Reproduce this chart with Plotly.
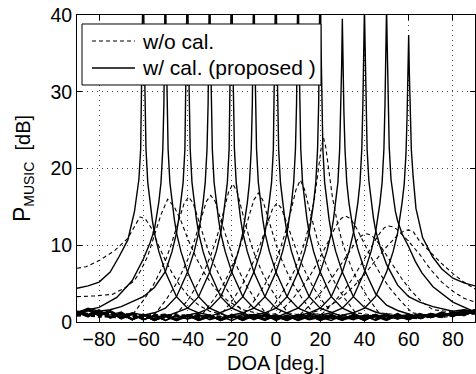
import plotly.graph_objects as go

# ---------------- data: w/ cal. (proposed), solid ----------------
wc_m60_x = [-90, -85, -80, -75, -71, -67, -64, -62, -61.2, -60.7, -60.3, -60, -59.7, -59.3, -58.8, -58, -57, -56, -55, -53, -50, -45, -40, -35, -30, -25, -20, -15, -10, -5, 0, 5, 10, 15, 20, 25, 30, 35, 40, 45, 50, 55, 60, 65, 70, 75, 80, 85, 90]
wc_m60_y = [4.4, 4.7, 5.2, 6.5, 8.5, 10.7, 14.4, 18.6, 22.5, 28.5, 37, 48, 37, 28.5, 22.5, 18.2, 15.5, 13.4, 11.6, 9.2, 6.5, 3.3, 1.8, 1.2, 0.9, 0.3, 0.8, 0.2, 1.0, 0.3, 0.7, 0.2, 0.8, 0.3, 0.6, 0.2, 0.9, 0.4, 0.7, 0.3, 1.1, 0.4, 0.8, 0.5, 1.0, 0.6, 1.3, 0.8, 1.5]

wc_m50_x = [-90, -80, -72, -65, -60, -57, -55, -54, -53, -52, -51.2, -50.7, -50.3, -50, -49.7, -49.3, -48.8, -48, -47, -46, -45, -43, -40, -35, -30, -25, -20, -15, -10, -5, 0, 5, 10, 15, 20, 25, 30, 35, 40, 45, 50, 55, 60, 65, 70, 75, 80, 85, 90]
wc_m50_y = [1.3, 1.9, 3.2, 5.4, 8.2, 10.3, 12.0, 13.6, 15.6, 18.2, 22.5, 28.5, 37, 48, 37, 28.5, 22.5, 18.2, 15.5, 13.4, 11.6, 9.2, 6.5, 3.3, 1.8, 1.2, 0.5, 1.0, 0.3, 0.9, 0.2, 0.8, 0.3, 1.0, 0.2, 0.7, 0.4, 0.9, 0.3, 0.8, 0.5, 1.1, 0.4, 0.9, 0.6, 1.2, 0.7, 1.4, 1.1]

wc_m40_x = [-90, -85, -80, -75, -70, -60, -55, -50, -47, -45, -44, -43, -42, -41.2, -40.7, -40.3, -40, -39.7, -39.3, -38.8, -38, -37, -36, -35, -33, -30, -25, -20, -15, -10, -5, 0, 5, 10, 15, 20, 25, 30, 35, 40, 45, 50, 55, 60, 65, 70, 75, 80, 85, 90]
wc_m40_y = [1.2, 1.8, 1.4, 1.6, 2.0, 3.3, 4.5, 6.6, 9.2, 11.6, 13.4, 15.5, 18.2, 22.5, 28.5, 37, 48, 37, 28.5, 22.5, 18.2, 15.5, 13.4, 11.6, 9.2, 6.5, 3.3, 1.8, 1.2, 0.6, 1.0, 0.3, 0.8, 0.2, 0.9, 0.4, 0.7, 0.2, 0.9, 0.4, 1.0, 0.3, 0.8, 0.5, 1.1, 0.6, 1.0, 0.8, 1.3, 1.2]

wc_m30_x = [-90, -85, -80, -75, -70, -65, -60, -55, -50, -45, -40, -37, -35, -34, -33, -32, -31.2, -30.7, -30.3, -30, -29.7, -29.3, -28.8, -28, -27, -26, -25, -23, -20, -15, -10, -5, 0, 5, 10, 15, 20, 25, 30, 35, 40, 45, 50, 55, 60, 65, 70, 75, 80, 85, 90]
wc_m30_y = [1.1, 1.7, 1.0, 1.5, 0.7, 1.2, 0.9, 1.2, 1.8, 3.3, 6.5, 9.2, 11.6, 13.4, 15.5, 18.2, 22.5, 28.5, 37, 48, 37, 28.5, 22.5, 18.2, 15.5, 13.4, 11.6, 9.2, 6.5, 3.3, 1.8, 1.2, 0.4, 0.9, 0.2, 0.7, 0.3, 1.0, 0.4, 0.8, 0.2, 0.9, 0.4, 0.7, 0.3, 1.0, 0.6, 1.2, 0.9, 1.6, 1.3]

wc_m20_x = [-90, -85, -80, -75, -70, -65, -60, -55, -50, -45, -40, -35, -30, -27, -25, -24, -23, -22, -21.2, -20.7, -20.3, -20, -19.7, -19.3, -18.8, -18, -17, -16, -15, -13, -10, -5, 0, 5, 10, 15, 20, 25, 30, 35, 40, 45, 50, 55, 60, 65, 70, 75, 80, 85, 90]
wc_m20_y = [0.9, 1.5, 0.8, 1.3, 0.5, 1.1, 0.3, 0.8, 0.7, 1.2, 1.8, 3.3, 6.5, 9.2, 11.6, 13.4, 15.5, 18.2, 22.5, 28.5, 37, 48, 37, 28.5, 22.5, 18.2, 15.5, 13.4, 11.6, 9.2, 6.5, 3.3, 1.8, 1.2, 0.5, 0.9, 0.2, 0.8, 0.3, 1.0, 0.4, 0.7, 0.2, 0.9, 0.5, 1.0, 0.7, 1.3, 0.8, 1.2, 1.6]

wc_m10_x = [-90, -85, -80, -75, -70, -65, -60, -55, -50, -45, -40, -35, -30, -25, -20, -17, -15, -14, -13, -12, -11.2, -10.7, -10.3, -10, -9.7, -9.3, -8.8, -8, -7, -6, -5, -3, 0, 5, 10, 15, 20, 25, 30, 35, 40, 45, 50, 55, 60, 65, 70, 75, 80, 85, 90]
wc_m10_y = [1.3, 0.7, 1.5, 0.6, 1.1, 0.3, 0.9, 0.2, 0.7, 0.4, 0.9, 1.2, 1.8, 3.3, 6.5, 9.2, 11.6, 13.4, 15.5, 18.2, 22.5, 28.5, 37, 48, 37, 28.5, 22.5, 18.2, 15.5, 13.4, 11.6, 9.2, 6.5, 3.3, 1.8, 1.2, 0.6, 0.9, 0.3, 0.8, 0.2, 0.9, 0.4, 1.0, 0.3, 0.9, 0.6, 1.1, 0.9, 1.4, 1.2]

wc_0_x = [-90, -85, -80, -75, -70, -65, -60, -55, -50, -45, -40, -35, -30, -25, -20, -15, -10, -7, -5, -4, -3, -2, -1.2, -0.7, -0.3, 0, 0.3, 0.7, 1.2, 2, 3, 4, 5, 7, 10, 15, 20, 25, 30, 35, 40, 45, 50, 55, 60, 65, 70, 75, 80, 85, 90]
wc_0_y = [1.0, 1.6, 0.9, 1.3, 0.4, 1.0, 0.3, 0.8, 0.2, 0.9, 0.4, 0.8, 0.7, 1.2, 1.8, 3.3, 6.5, 9.2, 11.6, 13.4, 15.5, 18.2, 22.5, 28.5, 37, 48, 37, 28.5, 22.5, 18.2, 15.5, 13.4, 11.6, 9.2, 6.5, 3.3, 1.8, 1.2, 0.7, 0.3, 0.9, 0.2, 0.8, 0.4, 1.0, 0.5, 0.9, 0.7, 1.3, 1.0, 1.6]

wc_10_x = [-90, -85, -80, -75, -70, -65, -60, -55, -50, -45, -40, -35, -30, -25, -20, -15, -10, -5, 0, 3, 5, 6, 7, 8, 8.8, 9.3, 9.7, 10, 10.3, 10.7, 11.2, 12, 13, 14, 15, 17, 20, 25, 30, 35, 40, 45, 50, 55, 60, 65, 70, 75, 80, 85, 90]
wc_10_y = [1.2, 0.8, 1.4, 0.7, 1.1, 0.4, 0.9, 0.2, 0.8, 0.3, 0.9, 0.2, 0.7, 0.4, 0.9, 1.2, 1.8, 3.3, 6.5, 9.2, 11.6, 13.4, 15.5, 18.2, 22.5, 28.5, 37, 48, 37, 28.5, 22.5, 18.2, 15.5, 13.4, 11.6, 9.2, 6.5, 3.3, 1.8, 1.2, 0.5, 0.9, 0.3, 0.8, 0.4, 1.0, 0.6, 1.1, 0.8, 1.5, 1.3]

wc_20_x = [-90, -85, -80, -75, -70, -65, -60, -55, -50, -45, -40, -35, -30, -25, -20, -15, -10, -5, 0, 5, 10, 13, 15, 16, 17, 18, 18.8, 19.3, 19.7, 20, 20.3, 20.7, 21.2, 22, 23, 24, 25, 27, 30, 35, 40, 45, 50, 55, 60, 65, 70, 75, 80, 85, 90]
wc_20_y = [1.4, 1.0, 1.6, 0.6, 1.2, 0.3, 1.0, 0.4, 0.7, 0.2, 0.8, 0.3, 0.9, 0.2, 0.7, 0.4, 0.9, 1.2, 1.8, 3.3, 6.5, 9.2, 11.6, 13.4, 15.5, 18.2, 22.5, 28.5, 37, 48, 37, 28.5, 22.5, 18.2, 15.5, 13.4, 11.6, 9.2, 6.5, 3.3, 1.9, 1.3, 0.9, 0.5, 1.0, 0.6, 1.1, 0.8, 1.3, 1.0, 1.5]

wc_30_x = [-90, -85, -80, -75, -70, -65, -60, -55, -50, -45, -40, -35, -30, -25, -20, -15, -10, -5, 0, 5, 10, 15, 20, 23, 25, 26, 27, 28, 28.8, 29.3, 29.7, 30, 30.3, 30.7, 31.2, 32, 33, 34, 35, 37, 40, 45, 50, 55, 60, 65, 70, 75, 80, 85, 90]
wc_30_y = [1.0, 1.5, 0.8, 1.3, 0.5, 1.0, 0.3, 0.9, 0.2, 0.8, 0.4, 1.0, 0.3, 0.7, 0.2, 0.8, 0.5, 0.9, 0.6, 1.2, 1.8, 3.3, 6.5, 9.2, 11.6, 13.4, 15.5, 18.2, 22.5, 27.5, 33.5, 39.5, 33.5, 27.5, 22.5, 18.2, 15.5, 13.4, 11.8, 9.5, 6.8, 3.7, 2.2, 1.5, 1.0, 0.6, 1.1, 0.7, 1.2, 0.9, 1.4]

wc_40_x = [-90, -85, -80, -75, -70, -65, -60, -55, -50, -45, -40, -35, -30, -25, -20, -15, -10, -5, 0, 5, 10, 15, 20, 25, 30, 33, 35, 36, 37, 38, 38.8, 39.3, 39.7, 40, 40.3, 40.7, 41.2, 42, 43, 44, 45, 47, 50, 55, 60, 65, 71, 80, 85, 90]
wc_40_y = [1.2, 0.7, 1.4, 0.6, 1.1, 0.3, 0.9, 0.2, 0.8, 0.4, 0.9, 0.2, 0.7, 0.3, 0.9, 0.2, 0.8, 0.4, 0.9, 0.5, 0.8, 1.2, 1.8, 3.3, 6.5, 9.2, 11.6, 13.4, 15.5, 18.2, 22.5, 28.5, 36, 41, 36, 28.5, 22.5, 18.4, 15.8, 13.7, 12.0, 9.9, 7.5, 4.8, 3.3, 2.6, 2.0, 1.4, 1.6, 1.3]

wc_50_x = [-90, -85, -80, -75, -70, -65, -60, -55, -50, -45, -40, -35, -30, -25, -20, -15, -10, -5, 0, 5, 10, 15, 20, 25, 30, 35, 40, 43, 45, 46, 47, 48, 48.8, 49.3, 49.7, 50, 50.3, 50.7, 51.2, 52, 53, 54, 55, 57, 60, 63, 66, 71, 80, 90]
wc_50_y = [1.4, 0.9, 1.5, 0.5, 1.0, 0.3, 1.0, 0.4, 0.8, 0.2, 0.9, 0.3, 0.8, 0.2, 1.0, 0.4, 0.7, 0.2, 0.9, 0.4, 0.8, 0.5, 0.9, 1.2, 1.8, 3.3, 6.5, 9.2, 11.6, 13.4, 15.5, 18.2, 22.5, 28.5, 36, 41, 36, 28.5, 22.8, 18.6, 16.2, 14.4, 13.2, 11.5, 9.8, 7.9, 6.4, 4.6, 2.6, 1.3]

wc_60_x = [-90, -85, -80, -75, -70, -65, -60, -55, -50, -45, -40, -35, -30, -25, -20, -15, -10, -5, 0, 5, 10, 15, 20, 25, 30, 35, 40, 45, 50, 53, 55, 56, 57, 58, 58.8, 59.3, 59.7, 60, 60.3, 60.7, 61.2, 62, 63.3, 66.3, 70.8, 75, 80, 85, 90]
wc_60_y = [1.1, 1.7, 1.2, 0.9, 1.3, 0.4, 0.9, 0.3, 1.0, 0.2, 0.7, 0.4, 0.9, 0.2, 0.8, 0.3, 0.9, 0.4, 0.7, 0.2, 1.0, 0.4, 0.8, 0.5, 0.9, 1.2, 1.8, 3.3, 6.5, 9.2, 11.6, 13.4, 15.5, 18.0, 22.0, 27.0, 32.5, 37.4, 32.5, 27.0, 22.5, 19.0, 14.8, 11.0, 8.5, 6.9, 5.7, 5.1, 4.7]

# ---------------- data: w/o cal., dashed ----------------
wo_1_x = [-90, -86, -80, -73, -67, -64, -61.5, -59, -56.5, -53, -50, -47, -44, -40, -35, -30, -25, -20, -10, 0, 10, 20, 30, 40, 50, 60, 70, 80, 90]
wo_1_y = [7.0, 7.2, 8.0, 9.3, 10.9, 12.4, 13.7, 13.4, 12.3, 9.9, 8.0, 6.4, 5.0, 3.5, 2.2, 1.4, 1.0, 0.7, 0.5, 0.9, 0.4, 0.7, 0.3, 0.8, 0.5, 0.7, 1.0, 0.9, 1.1]

wo_2_x = [-90, -82, -74, -68, -64, -61, -58, -55, -52, -49, -46, -43, -40, -36, -32, -28, -22, -15, -5, 5, 15, 25, 35, 45, 55, 65, 75, 85, 90]
wo_2_y = [3.3, 3.4, 3.6, 4.5, 5.4, 6.8, 8.6, 11.2, 14.0, 16.0, 15.0, 13.2, 10.9, 8.3, 6.2, 4.5, 2.8, 1.6, 0.9, 0.5, 0.8, 0.4, 0.7, 0.5, 0.9, 0.6, 1.0, 1.2, 1.0]

wo_3_x = [-90, -80, -70, -64.5, -59.5, -55.5, -52.5, -49.5, -47.5, -45.5, -43.5, -41.5, -39.5, -37.5, -35.5, -33.5, -31.5, -29.5, -26.5, -23.5, -19.5, -14.5, -5, 5, 15, 30, 45, 60, 75, 90]
wo_3_y = [1.0, 0.6, 1.0, 1.1, 3.0, 4.8, 6.5, 8.4, 10.0, 11.8, 13.7, 15.5, 16.3, 15.5, 13.7, 11.8, 10.0, 8.4, 6.5, 4.8, 3.0, 1.1, 0.7, 0.4, 0.8, 0.5, 0.7, 0.9, 0.6, 1.1]

wo_4_x = [-90, -75, -60, -54.5, -49.5, -45.5, -42.5, -39.5, -37.5, -35.5, -33.5, -31.5, -29.5, -27.5, -25.5, -23.5, -21.5, -19.5, -16.5, -13.5, -9.5, -4.5, 5, 20, 35, 50, 65, 80, 90]
wo_4_y = [0.8, 1.1, 0.6, 1.1, 3.0, 4.8, 6.5, 8.4, 10.0, 11.9, 13.8, 15.7, 16.5, 15.7, 13.8, 11.9, 10.0, 8.4, 6.5, 4.8, 3.0, 1.1, 0.6, 0.9, 0.4, 0.8, 0.6, 1.0, 1.3]

wo_5_x = [-90, -75, -60, -50, -44.5, -39.5, -35.5, -32.5, -29.5, -27.5, -25.5, -23.5, -21.5, -19.5, -17.5, -15.5, -13.5, -11.5, -9.5, -6.5, -3.5, 0.5, 5.5, 15, 30, 45, 60, 75, 90]
wo_5_y = [1.2, 0.7, 1.0, 0.6, 1.2, 3.0, 4.9, 6.6, 8.7, 10.3, 12.3, 14.6, 16.9, 18.0, 16.9, 14.6, 12.3, 10.3, 8.7, 6.6, 4.9, 3.0, 1.2, 0.7, 0.5, 0.9, 0.4, 0.8, 1.2]

wo_6_x = [-90, -75, -60, -45, -33, -28, -24, -21, -18, -16, -14, -12, -10, -8, -6, -4, -2, 0, 2, 5, 8, 12, 17, 30, 45, 60, 75, 90]
wo_6_y = [0.9, 1.2, 0.5, 0.8, 1.1, 3.0, 4.8, 6.5, 8.5, 10.1, 11.9, 14.0, 15.9, 16.8, 15.9, 14.0, 11.9, 10.1, 8.5, 6.5, 4.8, 3.0, 1.1, 0.6, 0.9, 0.5, 1.0, 1.4]

wo_7_x = [-90, -70, -50, -35, -24.5, -19.5, -15.5, -12.5, -9.5, -7.5, -5.5, -3.5, -1.5, 0.5, 2.5, 4.5, 6.5, 8.5, 10.5, 13.5, 16.5, 20.5, 25.5, 35, 50, 65, 80, 90]
wo_7_y = [1.1, 0.7, 1.0, 0.5, 1.1, 2.9, 4.7, 6.4, 8.3, 9.8, 11.5, 13.2, 14.8, 15.5, 14.8, 13.2, 11.5, 9.8, 8.3, 6.4, 4.7, 2.9, 1.1, 0.6, 0.9, 0.4, 1.1, 1.2]

wo_8_x = [-90, -70, -50, -30, -14, -9, -5, -2, 1, 3, 5, 7, 9, 11, 13, 15, 17, 19, 21, 24, 27, 31, 36, 50, 65, 80, 90]
wo_8_y = [1.3, 0.6, 0.9, 0.5, 1.2, 3.1, 4.9, 6.6, 8.7, 10.4, 12.4, 14.8, 17.2, 18.5, 17.2, 14.8, 12.4, 10.4, 8.7, 6.6, 4.9, 3.1, 1.2, 0.7, 1.0, 0.8, 1.2]

wo_9_x = [-90, -70, -50, -20, -3.5, 1.5, 5.5, 8.5, 11.5, 13.5, 15.5, 17.5, 19.5, 20.5, 21.5, 22.5, 23.5, 25.5, 27.5, 29.5, 31.5, 34.5, 37.5, 41.5, 46.5, 60, 75, 90]
wo_9_y = [0.9, 0.5, 1.0, 0.6, 1.2, 3.2, 5.1, 6.8, 9.1, 10.9, 13.3, 16.3, 20.6, 22.8, 24.0, 22.8, 20.6, 16.3, 13.3, 10.9, 9.1, 6.8, 5.1, 3.2, 1.2, 0.8, 1.0, 1.5]

wo_10_x = [-90, -70, -50, -30, -10, 1.5, 6.5, 11.5, 15.5, 18.5, 21.5, 23.5, 25.5, 27.5, 29.5, 31.5, 33.5, 35.5, 37.5, 39.5, 41.5, 44.5, 47.5, 51.5, 56.5, 61.5, 70, 80, 90]
wo_10_y = [1.0, 0.7, 0.4, 0.8, 0.5, 1.2, 2.7, 4.4, 6.1, 7.6, 9.2, 10.4, 11.6, 12.7, 13.5, 13.8, 13.5, 12.7, 11.6, 10.4, 9.2, 7.6, 6.1, 4.4, 2.7, 1.2, 0.8, 1.1, 1.3]

wo_11_x = [-90, -70, -50, -30, -10, 5, 11, 16, 21, 25, 28, 31, 33, 35, 37, 39, 41, 43, 45, 47, 49, 51, 54, 57, 61, 66, 71, 80, 90]
wo_11_y = [1.1, 0.6, 0.9, 0.5, 0.8, 0.6, 1.0, 2.4, 4.1, 5.6, 6.9, 8.2, 9.1, 10.0, 10.8, 11.3, 11.5, 11.3, 10.8, 10.0, 9.1, 8.2, 6.9, 5.6, 4.1, 2.6, 1.6, 1.3, 1.4]

wo_12_x = [-90, -70, -50, -30, -10, 10, 21, 26, 31, 35, 38, 41, 43, 45, 47, 49, 51, 53, 55, 60, 65, 70, 75, 80, 85, 90]
wo_12_y = [0.8, 1.1, 0.6, 0.9, 0.4, 0.8, 1.1, 2.5, 4.2, 5.8, 7.2, 8.7, 9.7, 10.7, 11.6, 12.3, 12.5, 12.4, 12.0, 10.5, 8.8, 6.8, 5.2, 4.0, 3.1, 2.6]

wo_13_x = [-90, -70, -50, -30, -10, 0, 10, 20, 25, 30, 35, 40, 45, 50, 55, 58, 60, 62, 65, 70, 75, 80, 85, 90]
wo_13_y = [1.2, 0.7, 1.0, 0.5, 0.8, 0.4, 0.9, 1.5, 2.2, 3.3, 4.6, 6.2, 8.0, 9.8, 11.3, 11.9, 12.0, 11.8, 10.5, 9.0, 7.6, 6.3, 5.2, 4.3]

x_ticks = [-80, -60, -40, -20, 0, 20, 40, 60, 80]
y_ticks = [0, 10, 20, 30, 40]
legend_labels = ["w/o cal.", "w/ cal. (proposed )"]

wo_series = [(wo_1_x, wo_1_y), (wo_2_x, wo_2_y), (wo_3_x, wo_3_y), (wo_4_x, wo_4_y),
             (wo_5_x, wo_5_y), (wo_6_x, wo_6_y), (wo_7_x, wo_7_y), (wo_8_x, wo_8_y),
             (wo_9_x, wo_9_y), (wo_10_x, wo_10_y), (wo_11_x, wo_11_y), (wo_12_x, wo_12_y),
             (wo_13_x, wo_13_y)]
wc_series = [(wc_m60_x, wc_m60_y), (wc_m50_x, wc_m50_y), (wc_m40_x, wc_m40_y),
             (wc_m30_x, wc_m30_y), (wc_m20_x, wc_m20_y), (wc_m10_x, wc_m10_y),
             (wc_0_x, wc_0_y), (wc_10_x, wc_10_y), (wc_20_x, wc_20_y),
             (wc_30_x, wc_30_y), (wc_40_x, wc_40_y), (wc_50_x, wc_50_y),
             (wc_60_x, wc_60_y)]

FONT = "Liberation Sans, Arial, Helvetica, sans-serif"
DASH = "4px,3px"

fig = go.Figure()
for i, (xs, ys) in enumerate(wo_series):
    fig.add_trace(go.Scatter(
        x=xs, y=ys, mode="lines", name=legend_labels[0], showlegend=False,
        line=dict(color="black", width=1.1, dash=DASH)))
for i, (xs, ys) in enumerate(wc_series):
    fig.add_trace(go.Scatter(
        x=xs, y=ys, mode="lines", name=legend_labels[1], showlegend=False,
        line=dict(color="black", width=1.4)))

axis_common = dict(
    showline=True, linecolor="black", linewidth=1, mirror="ticks",
    ticks="inside", ticklen=5, tickwidth=1, tickcolor="black",
    showgrid=True, gridcolor="#444", gridwidth=1, griddash="1px,4px",
    zeroline=False, automargin=False,
    tickfont=dict(family=FONT, size=19.5, color="black"),
)

# legend box (drawn in paper coordinates, on top of the curves)
LX0, LX1, LY0, LY1 = 0.0126, 0.613, 0.772, 0.9707
SX0, SX1, TX = 0.0377, 0.1457, 0.158
ROW1, ROW2 = 0.9153, 0.8274
shapes = [
    dict(type="rect", xref="paper", yref="paper", x0=LX0, x1=LX1, y0=LY0, y1=LY1,
         fillcolor="white", line=dict(color="black", width=1), layer="above"),
    dict(type="line", xref="paper", yref="paper", x0=SX0, x1=SX1, y0=ROW1, y1=ROW1,
         line=dict(color="black", width=1.1, dash=DASH), layer="above"),
    dict(type="line", xref="paper", yref="paper", x0=SX0, x1=SX1, y0=ROW2, y1=ROW2,
         line=dict(color="black", width=1.4), layer="above"),
]
annotations = [
    dict(xref="paper", yref="paper", x=TX, y=ROW1, xanchor="left", yanchor="middle",
         text=legend_labels[0], showarrow=False, font=dict(family=FONT, size=21, color="black")),
    dict(xref="paper", yref="paper", x=TX, y=ROW2, xanchor="left", yanchor="middle",
         text=legend_labels[1], showarrow=False, font=dict(family=FONT, size=21, color="black")),
]

fig.update_layout(
    width=476, height=374,
    margin=dict(l=77, r=1, t=15, b=52),
    paper_bgcolor="white", plot_bgcolor="white",
    font=dict(family=FONT, color="black"),
    xaxis=dict(range=[-90, 90], tickvals=x_ticks,
               title=dict(text="DOA [deg.]", font=dict(family=FONT, size=20), standoff=10),
               **axis_common),
    yaxis=dict(range=[0, 40], tickvals=y_ticks,
               title=dict(text='<span style="font-size:23px">P</span><sub>MUSIC</sub>  [dB]',
                          font=dict(family=FONT, size=20), standoff=14),
               **axis_common),
    shapes=shapes,
    annotations=annotations,
    showlegend=False,
)

fig.write_html("out.html", config={"displayModeBar": False},
               post_script="document.body.style.margin='0';document.body.style.padding='0';")
